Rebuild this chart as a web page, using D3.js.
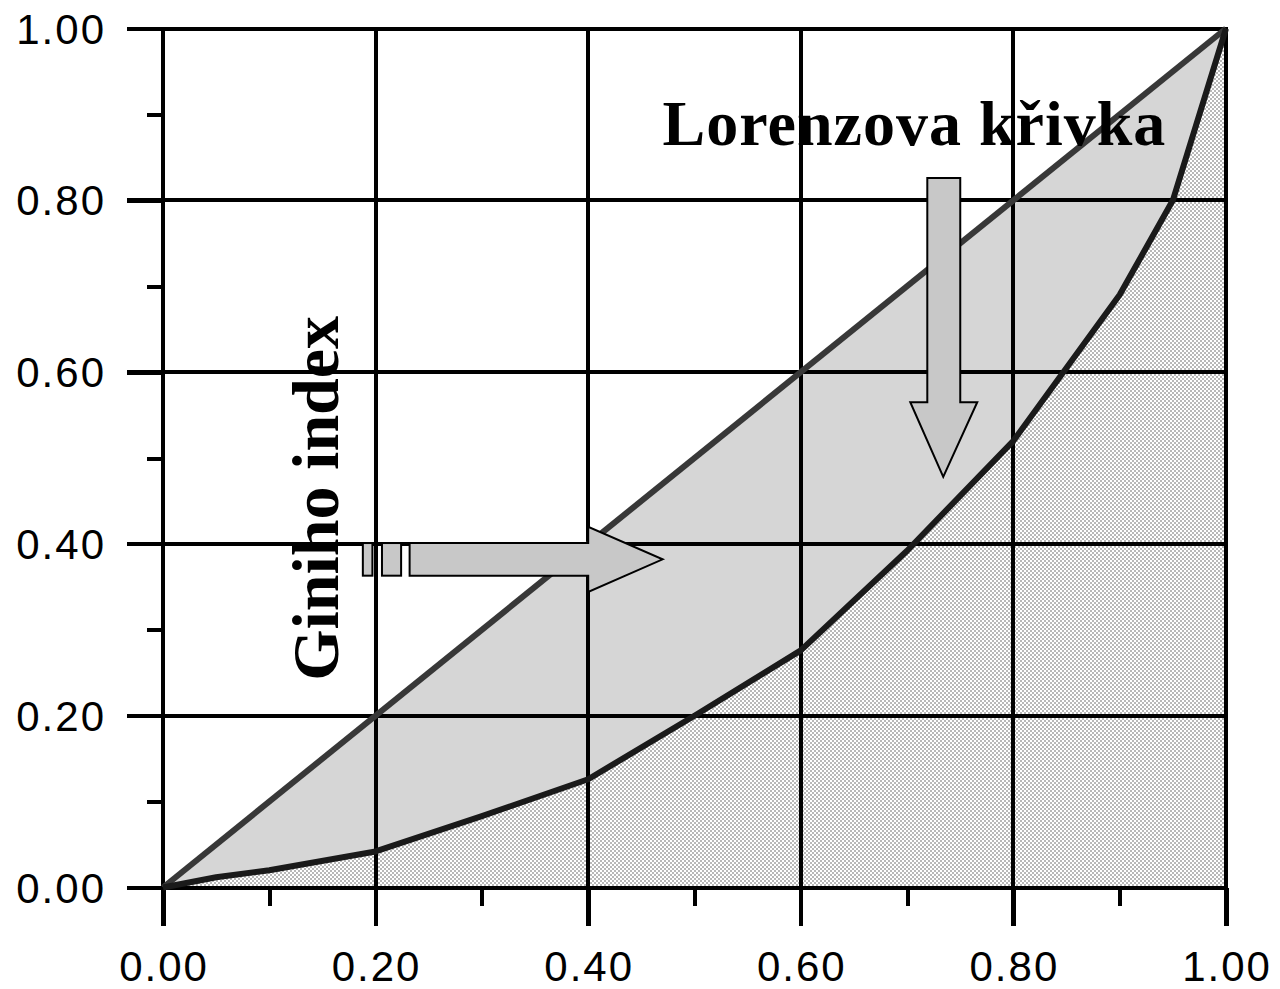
<!DOCTYPE html>
<html>
<head>
<meta charset="utf-8">
<script src="https://cdn.jsdelivr.net/npm/d3@7"></script>
<style>
  html, body { margin: 0; padding: 0; background: #fff; }
  svg { display: block; }
</style>
</head>
<body>
<svg id="chart" width="1280" height="989"></svg>
<script>
// Cumulative share of population (x) vs cumulative share of income (y)
const lorenzX = [0, 0.05, 0.1, 0.2, 0.3, 0.4, 0.5, 0.6, 0.7, 0.8, 0.9, 0.95, 1];
const lorenzY = [0, 0.012, 0.02, 0.042, 0.083, 0.126, 0.2, 0.276, 0.392, 0.52, 0.69, 0.8, 1];
// Line of perfect equality
const equalityX = [0, 1];
const equalityY = [0, 1];

const majorTicks = [0, 0.2, 0.4, 0.6, 0.8, 1];
const minorTicks = [0.1, 0.3, 0.5, 0.7, 0.9];
const tickLabels = ["0.00", "0.20", "0.40", "0.60", "0.80", "1.00"];

const titleText = "Lorenzova křivka";
const giniText = "Giniho index";

const svg = d3.select("#chart");
const x = d3.scaleLinear().domain([0, 1]).range([163, 1226]);
const y = d3.scaleLinear().domain([0, 1]).range([887.5, 28.5]);

// checkerboard fill for the area under the Lorenz curve
const defs = svg.append("defs");
const pat = defs.append("pattern")
  .attr("id", "checker").attr("patternUnits", "userSpaceOnUse")
  .attr("width", 4).attr("height", 4);
pat.append("rect").attr("width", 4).attr("height", 4).attr("fill", "#ffffff");
pat.append("rect").attr("width", 2).attr("height", 2).attr("fill", "#b8b8b8");
pat.append("rect").attr("x", 2).attr("y", 2).attr("width", 2).attr("height", 2).attr("fill", "#b8b8b8");

const lorenz = lorenzX.map((d, i) => [d, lorenzY[i]]);
const equality = equalityX.map((d, i) => [d, equalityY[i]]);

// area under the curve
svg.append("path")
  .datum(lorenz)
  .attr("fill", "url(#checker)")
  .attr("d", d3.area().x(d => x(d[0])).y0(y(0)).y1(d => y(d[1])));

// area between equality line and Lorenz curve
const between = equality.concat(lorenz.slice().reverse());
svg.append("path")
  .datum(between)
  .attr("fill", "#d6d6d6")
  .attr("d", d3.line().x(d => x(d[0])).y(d => y(d[1])).curve(d3.curveLinearClosed));

// grid lines
const grid = svg.append("g").attr("stroke", "#000").attr("stroke-width", 4).attr("shape-rendering", "crispEdges");
grid.selectAll(".hg").data(majorTicks.filter(d => d > 0)).join("line")
  .attr("x1", 127).attr("x2", x(1) + 2)
  .attr("y1", d => y(d)).attr("y2", d => y(d));
grid.selectAll(".vg").data(majorTicks.filter(d => d > 0)).join("line")
  .attr("y1", y(1) - 2).attr("y2", 926)
  .attr("x1", d => x(d)).attr("x2", d => x(d));

// axes
const yAxis = d3.axisLeft(y).tickValues(majorTicks.concat(minorTicks))
  .tickSize(0).tickFormat(() => "");
const xAxis = d3.axisBottom(x).tickValues(majorTicks.concat(minorTicks))
  .tickSize(0).tickFormat(() => "");

const gy = svg.append("g").attr("transform", `translate(${x(0)},0)`).call(yAxis);
gy.select(".domain").remove();
gy.selectAll(".tick line")
  .attr("x2", d => majorTicks.includes(d) ? -36 : -16)
  .attr("stroke", "#000").attr("stroke-width", 4).attr("shape-rendering", "crispEdges");
gy.selectAll(".tick text").remove();

const gx = svg.append("g").attr("transform", `translate(0,${y(0)})`).call(xAxis);
gx.select(".domain").remove();
gx.selectAll(".tick line")
  .attr("y2", d => majorTicks.includes(d) ? 38 : 18)
  .attr("stroke", "#000").attr("stroke-width", 4).attr("shape-rendering", "crispEdges");
gx.selectAll(".tick text").remove();

// axis lines
svg.append("line").attr("x1", x(0)).attr("x2", x(0)).attr("y1", y(1) - 2).attr("y2", 926)
  .attr("stroke", "#000").attr("stroke-width", 4).attr("shape-rendering", "crispEdges");
svg.append("line").attr("x1", 127).attr("x2", x(1) + 2).attr("y1", y(0)).attr("y2", y(0))
  .attr("stroke", "#000").attr("stroke-width", 4).attr("shape-rendering", "crispEdges");

// tick labels
const labelFont = "'Liberation Sans', Arial, sans-serif";
svg.append("g").selectAll("text").data(majorTicks).join("text")
  .attr("x", 106).attr("y", d => y(d) + 15)
  .attr("text-anchor", "end")
  .attr("font-family", labelFont).attr("font-size", 42).attr("letter-spacing", 2)
  .attr("fill", "#000")
  .text((d, i) => tickLabels[i]);
svg.append("g").selectAll("text").data(majorTicks).join("text")
  .attr("x", d => x(d) + 1).attr("y", 981)
  .attr("text-anchor", "middle")
  .attr("font-family", labelFont).attr("font-size", 42).attr("letter-spacing", 2)
  .attr("fill", "#000")
  .text((d, i) => tickLabels[i]);

// equality line and Lorenz curve
svg.append("path").datum(equality)
  .attr("fill", "none").attr("stroke", "#383838").attr("stroke-width", 6)
  .attr("d", d3.line().x(d => x(d[0])).y(d => y(d[1])));
svg.append("path").datum(lorenz)
  .attr("fill", "none").attr("stroke", "#1a1a1a").attr("stroke-width", 6)
  .attr("stroke-linejoin", "round")
  .attr("d", d3.line().x(d => x(d[0])).y(d => y(d[1])));

// arrows (positions in data units)
const arrowStyle = sel => sel.attr("fill", "#c8c8c8").attr("stroke", "#000").attr("stroke-width", 2);
const hTop = 0.401, hBot = 0.363, hHeadTop = 0.420, hHeadBot = 0.344, hTip = 0.382;
[[0.188, 0.197], [0.206, 0.224]].forEach(([a, b]) => {
  svg.append("rect").attr("x", x(a)).attr("y", y(hTop)).attr("width", x(b) - x(a)).attr("height", y(hBot) - y(hTop))
    .call(arrowStyle);
});
svg.append("path").call(arrowStyle).attr("stroke-linejoin", "miter")
  .attr("d", d3.line()([
    [x(0.232), y(hTop)], [x(0.400), y(hTop)], [x(0.400), y(hHeadTop)], [x(0.470), y(hTip)],
    [x(0.400), y(hHeadBot)], [x(0.400), y(hBot)], [x(0.232), y(hBot)]
  ]) + "Z");

svg.append("path").call(arrowStyle).attr("stroke-linejoin", "miter")
  .attr("d", d3.line()([
    [x(0.719), y(0.826)], [x(0.750), y(0.826)], [x(0.750), y(0.565)], [x(0.766), y(0.565)],
    [x(0.734), y(0.478)], [x(0.703), y(0.565)], [x(0.719), y(0.565)]
  ]) + "Z");

// annotations
const serif = "'Liberation Serif', 'Times New Roman', serif";
svg.append("text")
  .attr("x", x(0.470)).attr("y", y(0.864))
  .attr("font-family", serif).attr("font-weight", "bold").attr("font-size", 64)
  .attr("letter-spacing", 1)
  .attr("fill", "#000").text(titleText);

svg.append("text")
  .attr("transform", `translate(${x(0.165)},${y(0.453)}) rotate(-90)`)
  .attr("text-anchor", "middle")
  .attr("font-family", serif).attr("font-weight", "bold").attr("font-size", 66)
  .attr("fill", "#000").text(giniText);
</script>
</body>
</html>
